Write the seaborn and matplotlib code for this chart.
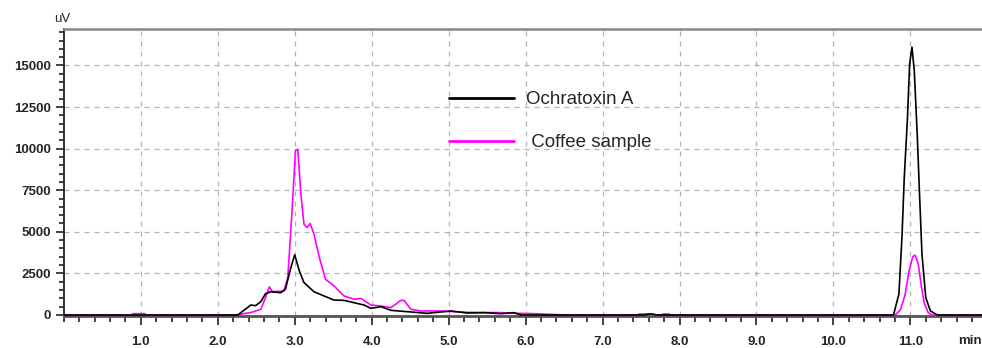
import pandas as pd
import seaborn as sns
import matplotlib.pyplot as plt
from matplotlib.ticker import MultipleLocator

sns.set_style("white")
plt.rcParams["font.family"] = ["Liberation Sans", "DejaVu Sans"]

# retention time (min) and detector response (uV)
ota_time = [0.0, 2.26, 2.43, 2.49, 2.56, 2.62, 2.69, 2.82, 2.88, 2.95, 3.00,
            3.06, 3.12, 3.25, 3.38, 3.51, 3.64, 3.77, 3.90, 3.99, 4.12, 4.25,
            4.46, 4.72, 5.03, 5.24, 5.46, 5.68, 5.85, 5.94, 7.55, 7.60, 7.65,
            7.70, 10.78, 10.85, 10.89, 10.92, 10.96, 10.99, 11.02, 11.05,
            11.09, 11.12, 11.15, 11.20, 11.26, 11.35, 11.93]
ota_uv = [0, 0, 600, 560, 800, 1280, 1400, 1340, 1560, 2850, 3620,
          2650, 1950, 1400, 1145, 900, 880, 740, 600, 400, 500, 280,
          200, 100, 240, 120, 140, 80, 140, 0, 0, 60, 60, 0,
          0, 1250, 4660, 8270, 11690, 15100, 16100, 14700,
          10680, 7070, 3650, 1040, 240, 0, 0]

coffee_time = [0.0, 0.88, 0.90, 1.05, 1.07, 2.23, 2.43, 2.56, 2.62, 2.67,
               2.71, 2.86, 2.91, 2.96, 3.01, 3.04, 3.08, 3.12, 3.16, 3.20,
               3.25, 3.32, 3.40, 3.51, 3.64, 3.77, 3.86, 3.99, 4.12, 4.25,
               4.38, 4.42, 4.51, 4.64, 4.90, 5.07, 5.24, 5.68, 5.89, 6.11,
               6.52, 7.45, 7.48, 7.58, 7.61, 7.76, 7.79, 7.86, 7.89, 10.80,
               10.87, 10.93, 10.98, 11.03, 11.06, 11.10, 11.14, 11.18, 11.23,
               11.28, 11.93]
coffee_uv = [0, 0, 80, 80, 0, 0, 150, 340, 1040, 1690,
             1400, 1440, 2250, 5860, 9880, 9950, 7270, 5460, 5260, 5500,
             4860, 3450, 2150, 1750, 1145, 945, 1000, 600, 540, 440,
             880, 880, 340, 240, 240, 200, 160, 140, 100, 80,
             0, 0, 60, 60, 0, 0, 60, 60, 0, 0,
             300, 1200, 2600, 3500, 3600, 3100, 1800, 700, 150,
             0, 0]

series_names = ["Ochratoxin A", "Coffee sample"]
series_colors = ["black", "#ff00ff"]
x_ticks = [1, 2, 3, 4, 5, 6, 7, 8, 9, 10, 11]
y_ticks = [0, 2500, 5000, 7500, 10000, 12500, 15000]

df = pd.concat([
    pd.DataFrame({"time": coffee_time, "uv": coffee_uv,
                  "trace": series_names[1]}),
    pd.DataFrame({"time": ota_time, "uv": ota_uv, "trace": series_names[0]}),
])

fig, ax = plt.subplots(figsize=(9.82, 3.48), dpi=100)
fig.subplots_adjust(left=0.065, right=1.0, top=0.917, bottom=0.092)

sns.lineplot(data=df, x="time", y="uv", hue="trace",
             hue_order=[series_names[1], series_names[0]],
             palette=dict(zip(series_names, series_colors)),
             linewidth=1.2, estimator=None, sort=False, ax=ax, zorder=3)

ax.set_xlim(0, 11.93)
ax.set_ylim(-60, 17200)
ax.xaxis.set_minor_locator(MultipleLocator(0.2))
ax.yaxis.set_minor_locator(MultipleLocator(500))
ax.set_xticks(x_ticks)
ax.set_xticklabels([f"{v:.1f}" for v in x_ticks])
ax.set_yticks(y_ticks)
ax.grid(True, which="major", color="#b4b4b4", linestyle=(0, (4, 4)),
        linewidth=0.9)
ax.tick_params(axis="both", which="both", direction="out", color="#222222",
               labelsize=9.5, width=1.2)
ax.tick_params(axis="x", which="major", length=6.5, pad=8, bottom=True)
ax.tick_params(axis="x", which="minor", length=4.3, bottom=True)
ax.tick_params(axis="y", which="major", length=6, pad=3, left=True)
ax.tick_params(axis="y", which="minor", length=3.5, left=True)
for lab in ax.get_xticklabels() + ax.get_yticklabels():
    lab.set_fontweight("bold")

ax.spines["left"].set_color("#222222")
ax.spines["left"].set_linewidth(1.3)
ax.spines["bottom"].set_color("#555555")
ax.spines["bottom"].set_linewidth(2)
ax.spines["top"].set_color("#888888")
ax.spines["top"].set_linewidth(1.8)
ax.spines["right"].set_visible(False)

ax.set_xlabel("")
ax.set_ylabel("")
ax.text(-0.011, 1.012, "uV", transform=ax.transAxes, fontsize=9.5,
        ha="left", va="bottom")
ax.text(0.974, -0.086, "min", transform=ax.transAxes, fontsize=9.5,
        fontweight="bold", ha="left", va="center")

handles, labels = ax.get_legend_handles_labels()
order = [labels.index(series_names[0]), labels.index(series_names[1])]
ax.legend([handles[i] for i in order], ["Ochratoxin A", " Coffee sample"],
          frameon=False, loc="upper left", bbox_to_anchor=(0.419, 0.783),
          borderaxespad=0, borderpad=0, handlelength=3.5, handletextpad=0.65,
          labelspacing=1.37, fontsize=13.5)
for line in ax.get_legend().get_lines():
    line.set_linewidth(2)

fig.savefig("out.png", dpi=100)
